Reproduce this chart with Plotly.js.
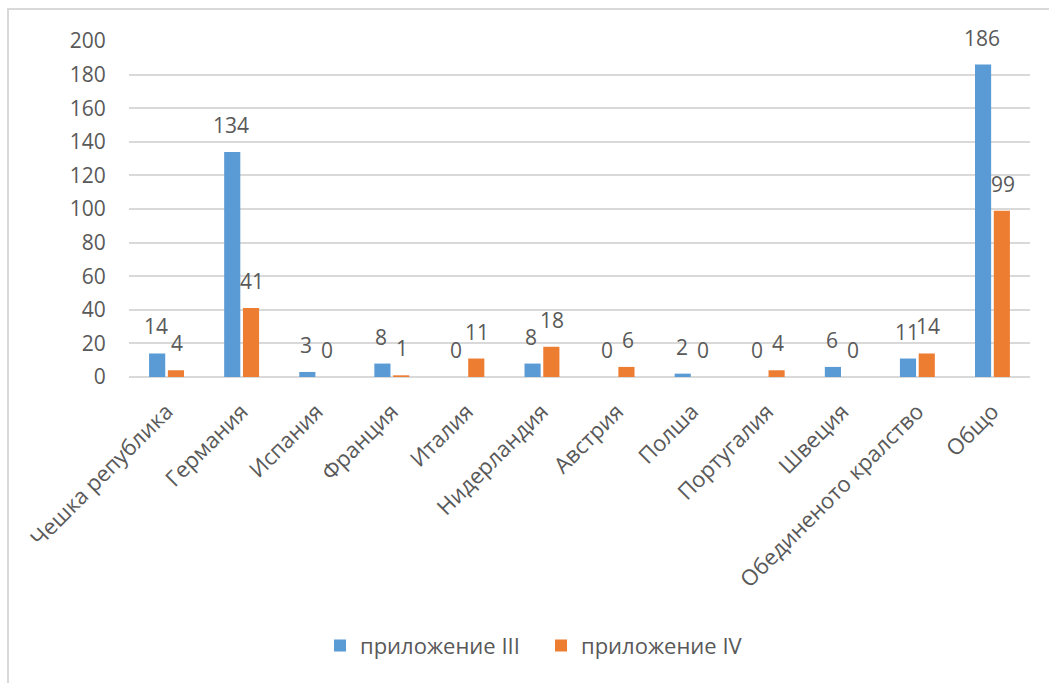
<!DOCTYPE html>
<html>
<head>
<meta charset="utf-8">
<script src="https://cdn.plot.ly/plotly-3.0.1.min.js"></script>
<style>
  html, body { margin: 0; padding: 0; background: #fff; }
  #chart { width: 1049px; height: 683px; }
  #frame { position: absolute; left: 7px; top: 8px; width: 1042px; height: 675px;
           border-left: 2px solid #d9d9d9; border-top: 2px solid #d9d9d9; pointer-events: none; }
</style>
</head>
<body>
<div id="chart"></div>
<div id="frame"></div>
<script>
const categories = ["Чешка република", "Германия", "Испания", "Франция", "Италия", "Нидерландия",
                    "Австрия", "Полша", "Португалия", "Швеция", "Обединеното кралство", "Общо"];
const seriesNames = ["приложение III", "приложение IV"];
const annexIII = [14, 134, 3, 8, 0, 8, 0, 2, 0, 6, 11, 186];
const annexIV  = [4, 41, 0, 1, 11, 18, 6, 0, 4, 0, 14, 99];
const yTicks = [0, 20, 40, 60, 80, 100, 120, 140, 160, 180, 200];

const FONT = "Open Sans, Liberation Sans, sans-serif";
const GREY = "#595959";
const BLUE = "#5B9BD5";
const ORANGE = "#ED7D31";

const traces = [
  { type: "bar", name: seriesNames[0], x: categories, y: annexIII,
    marker: { color: BLUE }, hoverinfo: "x+y" },
  { type: "bar", name: seriesNames[1], x: categories, y: annexIV,
    marker: { color: ORANGE }, hoverinfo: "x+y" }
];

const annotations = [];
[[annexIII, -10.5], [annexIV, 10.5]].forEach(([vals, dx]) => {
  vals.forEach((v, i) => {
    annotations.push({
      x: categories[i], y: v, xref: "x", yref: "y",
      text: String(v), showarrow: false,
      xanchor: "center", yanchor: "middle",
      xshift: dx, yshift: 27,
      font: { family: FONT, size: 21, color: GREY }
    });
  });
});

const layout = {
  width: 1049, height: 683,
  margin: { l: 129, r: 19, t: 41, b: 306 },
  paper_bgcolor: "#ffffff", plot_bgcolor: "#ffffff",
  barmode: "group", bargap: 0.5, bargroupgap: 0.14,
  font: { family: FONT, size: 21, color: GREY },
  xaxis: {
    type: "category", tickangle: -45, showgrid: false, zeroline: false,
    showline: false, ticks: "outside", ticklen: 12, tickcolor: "rgba(0,0,0,0)",
    tickfont: { family: FONT, size: 22, color: GREY }
  },
  yaxis: {
    range: [0, 200], tickvals: yTicks, ticktext: yTicks.map(String),
    showgrid: true, gridcolor: "#d9d9d9", gridwidth: 2,
    zeroline: true, zerolinecolor: "#d9d9d9", zerolinewidth: 2,
    showline: false, ticks: "outside", ticklen: 18, tickcolor: "rgba(0,0,0,0)",
    tickfont: { family: FONT, size: 21, color: GREY }
  },
  legend: {
    orientation: "h", x: 0.212, xanchor: "left", y: -0.80, yanchor: "middle",
    font: { family: FONT, size: 22, color: GREY }, itemwidth: 30,
    entrywidth: 176, entrywidthmode: "pixels"
  },
  annotations: annotations,
  showlegend: true
};

Plotly.newPlot("chart", traces, layout, { displayModeBar: false, staticPlot: true });
</script>
</body>
</html>
